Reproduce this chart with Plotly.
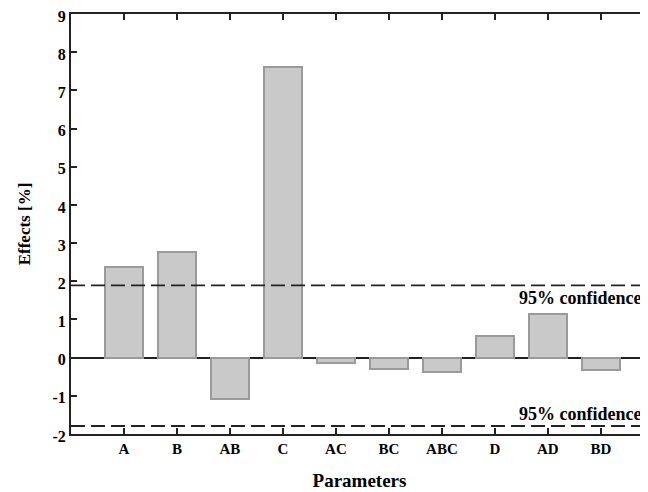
import plotly.graph_objects as go

categories = ["A", "B", "AB", "C", "AC", "BC", "ABC", "D", "AD", "BD"]
effects = [2.37, 2.76, -1.08, 7.61, -0.15, -0.30, -0.37, 0.56, 1.14, -0.32]
upper_conf = 1.89
lower_conf = -1.79
conf_label = "95% confidence"
y_ticks = list(range(-2, 10))
y_tick_text = [str(v) for v in y_ticks]

FONT = "Liberation Serif"

fig = go.Figure()
fig.add_trace(go.Bar(
    x=list(range(len(categories))),
    y=effects,
    width=0.71,
    marker=dict(color="#c9c9c9", line=dict(color="#9a9a9a", width=2)),
    showlegend=False,
))

for yv in (upper_conf, lower_conf):
    fig.add_shape(type="line", xref="paper", x0=0, x1=1, yref="y", y0=yv, y1=yv,
                  line=dict(color="#222222", width=1.8, dash="14px,6px"))

fig.add_annotation(x=7.415, y=upper_conf, xref="x", yref="y", text=conf_label,
                   showarrow=False, xanchor="left", yanchor="top", yshift=-1,
                   font=dict(family=FONT, size=18, color="black", weight="bold"))
fig.add_annotation(x=7.415, y=lower_conf, xref="x", yref="y", text=conf_label,
                   showarrow=False, xanchor="left", yanchor="bottom", yshift=0,
                   font=dict(family=FONT, size=18, color="black", weight="bold"))

# page body has an 8px margin; size the figure so the plot lands where the reference has it
fig.update_layout(
    width=640, height=484,
    margin=dict(l=63, r=0, t=6, b=58),
    plot_bgcolor="white", paper_bgcolor="white",
    font=dict(family=FONT, color="black"),
    bargap=0,
)
fig.update_xaxes(
    range=[-1, 9.89], automargin=False,
    tickmode="array", tickvals=list(range(len(categories))), ticktext=categories,
    ticks="inside", ticklen=6, tickwidth=2, tickcolor="#222",
    showline=True, linewidth=2, linecolor="#222", mirror="ticks",
    showgrid=False, zeroline=False,
    tickfont=dict(family=FONT, size=15, weight="bold"),
    title=dict(text="Parameters", font=dict(family=FONT, size=19, weight="bold"), standoff=18),
)
fig.update_yaxes(
    range=[-2, 9], automargin=False, ticklabeloverflow="allow", ticklabelshift=2,
    tickmode="array", tickvals=y_ticks, ticktext=y_tick_text,
    ticks="inside", ticklen=6, tickwidth=2, tickcolor="#222",
    showline=True, linewidth=2, linecolor="#222", mirror="ticks",
    showgrid=False, zeroline=True, zerolinecolor="#222", zerolinewidth=1.5,
    tickfont=dict(family=FONT, size=16, weight="bold"),
    title=dict(text="Effects [%]", font=dict(family=FONT, size=17, weight="bold"), standoff=18),
)

fig.write_html("out.html")
